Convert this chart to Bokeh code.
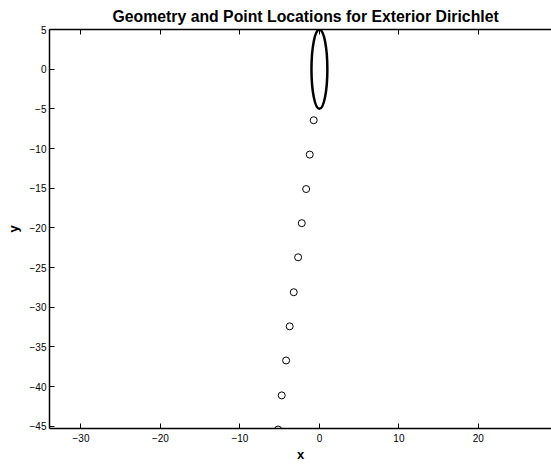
from bokeh.plotting import figure
from bokeh.models import Range1d, LinearAxis, FixedTicker, Title
from bokeh.embed import file_html
from bokeh.resources import INLINE

# Data
title_text = "Geometry and Point Locations for Exterior Dirichlet"
pt_x = [-0.72, -1.22, -1.67, -2.22, -2.68, -3.23, -3.74, -4.19, -4.74, -5.20]
pt_y = [-6.43, -10.76, -15.10, -19.40, -23.70, -28.10, -32.40, -36.70, -41.10, -45.40]
ellipse_cx = [0.0]
ellipse_cy = [0.0]
ellipse_w = [2.0]
ellipse_h = [10.0]
x_ticks = [-30, -20, -10, 0, 10, 20]
y_ticks = [5, 0, -5, -10, -15, -20, -25, -30, -35, -40, -45]


def label(v):
    return ("\u2212" + str(-v)) if v < 0 else str(v)


FONT = "Liberation Sans"

p = figure(width=551, height=464, output_backend="svg", toolbar_location=None,
           x_range=Range1d(-33.96, 29.2), y_range=Range1d(-45.27, 5.0),
           min_border_left=49, min_border_right=0, min_border_top=29, min_border_bottom=36,
           x_axis_label="x", y_axis_label="y")
p.title = Title(text=title_text, align="left", offset=63, text_font=FONT,
                text_font_size="15.8px", text_font_style="bold",
                text_color="black", standoff=10)
p.outline_line_color = None
p.grid.visible = False
p.background_fill_color = "white"
p.border_fill_color = "white"

for ax, ticks in ((p.xaxis[0], x_ticks), (p.yaxis[0], y_ticks)):
    ax.ticker = FixedTicker(ticks=ticks)
    ax.major_label_overrides = {t: label(t) for t in ticks}
    ax.major_tick_in = 5
    ax.major_tick_out = 0
    ax.minor_tick_line_color = None
    ax.axis_line_width = 1.5
    ax.axis_line_color = "black"
    ax.major_tick_line_color = "black"
    ax.major_label_text_font = FONT
    ax.major_label_text_font_size = "10px"
    ax.major_label_text_color = "black"
    ax.axis_label_text_font = FONT
    ax.axis_label_text_font_size = "13px"
    ax.axis_label_text_font_style = "bold"
    ax.axis_label_text_color = "black"

p.xaxis[0].major_label_standoff = 5
p.xaxis[0].axis_label_standoff = 2
p.yaxis[0].major_label_standoff = 3
p.yaxis[0].axis_label_standoff = 6

top = LinearAxis(ticker=FixedTicker(ticks=x_ticks))
top.major_label_overrides = {t: "" for t in x_ticks}
top.major_tick_in = 5
top.major_tick_out = 0
top.minor_tick_line_color = None
top.axis_line_width = 1.5
top.axis_line_color = "black"
top.major_tick_line_color = "black"
top.major_label_standoff = 0
p.add_layout(top, "above")

p.ellipse(x=ellipse_cx, y=ellipse_cy, width=ellipse_w, height=ellipse_h,
          fill_color=None, line_color="black", line_width=2.5)
p.scatter(pt_x, pt_y, marker="circle", size=7, fill_color=None,
          line_color="black", line_width=1)

open("out.html", "w").write(file_html(p, INLINE))
